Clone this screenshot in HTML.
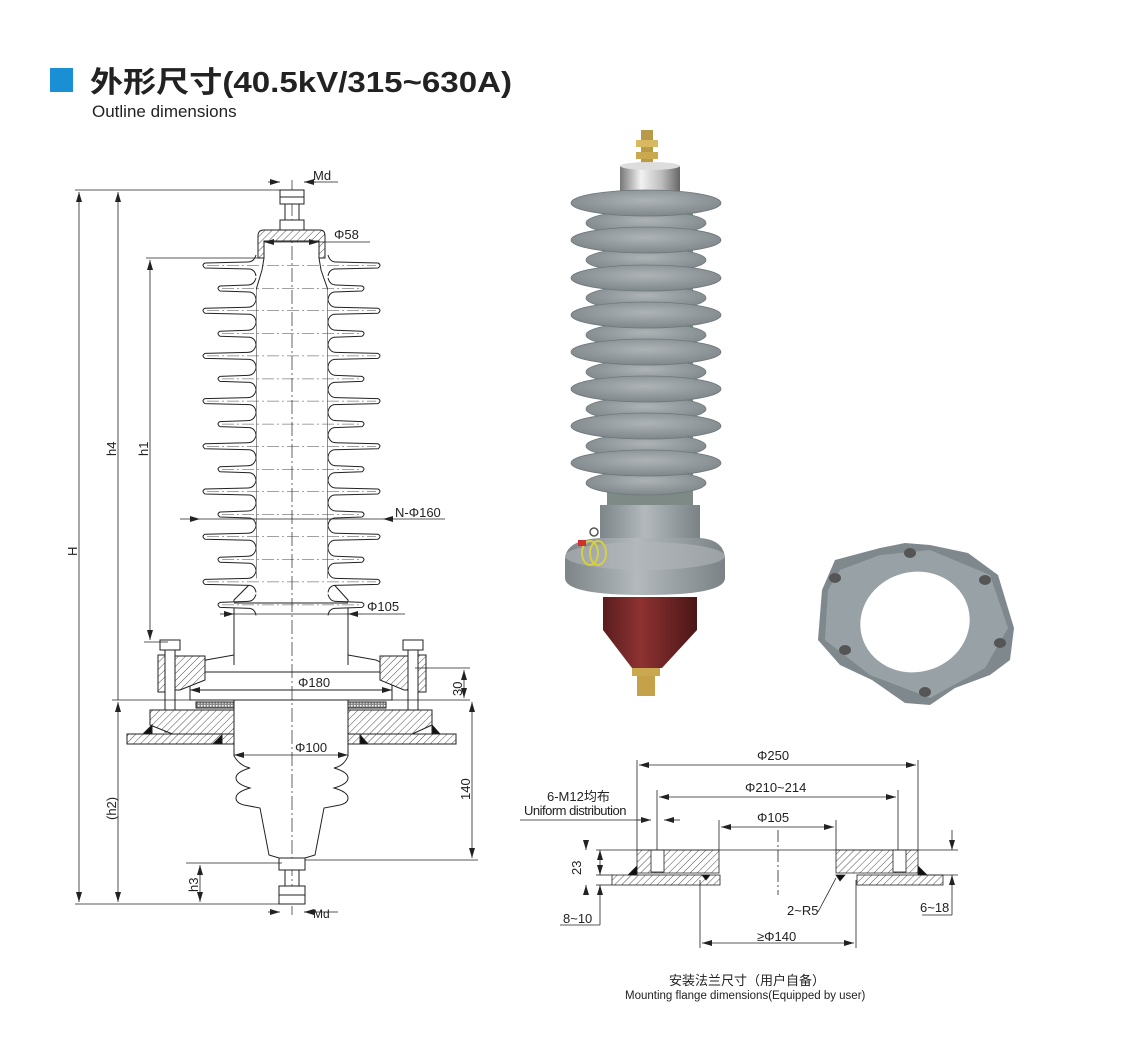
<!DOCTYPE html>
<html><head><meta charset="utf-8"><style>
html,body{margin:0;padding:0;background:#fff;width:1124px;height:1051px;overflow:hidden}
svg{position:absolute;left:0;top:0}
text{font-family:"Liberation Sans","Noto Sans CJK SC",sans-serif;fill:#222}
</style></head><body>
<svg width="1124" height="1051" viewBox="0 0 1124 1051" xmlns="http://www.w3.org/2000/svg">
<defs>
<pattern id="h" width="5" height="5" patternUnits="userSpaceOnUse" patternTransform="rotate(45)"><rect width="5" height="5" fill="#fff"/><line x1="0" y1="0" x2="0" y2="5" stroke="#222" stroke-width="0.8"/></pattern>
<pattern id="x" width="3" height="3" patternUnits="userSpaceOnUse"><rect width="3" height="3" fill="#888"/><rect width="1.5" height="1.5" fill="#fff"/></pattern>
<marker id="a" viewBox="0 0 10 6" refX="10" refY="3" markerWidth="10" markerHeight="6" orient="auto-start-reverse" markerUnits="userSpaceOnUse"><path d="M0,0 L10,3 L0,6z" fill="#222"/></marker>
<radialGradient id="sg" cx="0.5" cy="0.4" r="0.6"><stop offset="0" stop-color="#aeb4b6"/><stop offset="1" stop-color="#7f878b"/></radialGradient>
<linearGradient id="cap" x1="0" x2="1"><stop offset="0" stop-color="#777"/><stop offset=".35" stop-color="#f2f2f2"/><stop offset=".7" stop-color="#bbb"/><stop offset="1" stop-color="#666"/></linearGradient>
<linearGradient id="red" x1="0" x2="1"><stop offset="0" stop-color="#5a1d1d"/><stop offset=".4" stop-color="#8e3232"/><stop offset="1" stop-color="#4b1616"/></linearGradient>
<linearGradient id="gb" x1="0" x2="1"><stop offset="0" stop-color="#7d8589"/><stop offset=".45" stop-color="#b3b9bc"/><stop offset="1" stop-color="#7a8286"/></linearGradient>
</defs>

<!-- header -->
<rect x="50" y="68" width="23" height="24" fill="#1b8fd4"/>
<text x="90" y="92" font-size="29" font-weight="bold" textLength="422" lengthAdjust="spacingAndGlyphs">外形尺寸(40.5kV/315~630A)</text>
<text x="92" y="117" font-size="17">Outline dimensions</text>

<g id="left" stroke="#222" stroke-width="1" fill="none">
 <line x1="292" y1="180" x2="292" y2="915" stroke-dasharray="14,3,2,3" stroke-width="0.7"/>
 <rect x="280" y="190" width="24" height="14" fill="#fff"/>
 <line x1="280" y1="197" x2="304" y2="197"/>
 <rect x="285" y="204" width="14" height="18"/>
 <rect x="280" y="220" width="24" height="10" fill="#fff"/>
 <path d="M258,258 L258,236 Q258,230 264,230 L320,230 Q325,230 325,236 L325,258 L319,258 L319,241 L264,241 L264,258 Z" fill="url(#h)"/>
 <line x1="264" y1="241" x2="319" y2="241"/>
 <path d="M264,258 L262,270 L256,290 L256,578 L234,600 L234,665"/>
 <path d="M319,258 L321,270 L328,290 L328,578 L348,600 L348,665"/>
 <g id="sheds"></g>
 <line x1="234" y1="603" x2="348" y2="603"/>
 <path d="M234,655 L206,660 L190,668 L190,690 M348,655 L376,660 L392,668 L392,690"/>
 <path d="M190,672 L392,672 M190,690 L392,690 L392,700 L190,700Z"/>
 <path d="M172,656 L205,656 L205,680 L180,690 L172,690Z" fill="url(#h)"/>
 <path d="M380,656 L412,656 L412,690 L404,690 L380,680Z" fill="url(#h)"/>
 <rect x="158" y="655" width="12" height="37" fill="url(#h)"/>
 <rect x="414" y="655" width="12" height="37" fill="url(#h)"/>
 <rect x="160" y="640" width="20" height="10" fill="#fff"/>
 <rect x="403" y="640" width="20" height="10" fill="#fff"/>
 <rect x="165" y="650" width="10" height="82" fill="#fff"/>
 <rect x="408" y="650" width="10" height="75" fill="#fff"/>
 <rect x="196" y="702" width="38" height="6" fill="url(#x)"/>
 <rect x="348" y="702" width="38" height="6" fill="url(#x)"/>
 <path d="M150,710 L234,710 L234,735 L175,735 L150,725Z" fill="url(#h)"/>
 <path d="M348,710 L432,710 L432,725 L410,735 L348,735Z" fill="url(#h)"/>
 <rect x="127" y="734" width="107" height="10" fill="url(#h)"/>
 <rect x="348" y="734" width="108" height="10" fill="url(#h)"/>
 <path d="M143,734 L152,725 L152,734Z M213,744 L222,735 L222,744Z M368,744 L360,735 L360,744Z M432,734 L432,725 L440,734Z" fill="#111"/>
 <path d="M234,700 L234,756 Q240,766 250,768 Q236,772 236,778 Q236,784 250,788 Q236,792 236,798 Q236,803 244,805 L260,808 L269,855 L279,858 L305,858 L315,855 L324,808 L340,805 Q348,803 348,798 Q348,792 334,788 Q348,784 348,778 Q348,772 334,768 Q344,766 348,756 L348,700"/>
 <rect x="279" y="858" width="26" height="12" fill="#fff"/>
 <rect x="285" y="870" width="14" height="18"/>
 <rect x="279" y="886" width="26" height="18" fill="#fff"/>
 <line x1="279" y1="895" x2="305" y2="895"/>
 <g stroke-width="0.8">
 <line x1="75" y1="190" x2="282" y2="190"/>
 <line x1="75" y1="904" x2="282" y2="904"/>
 <line x1="79" y1="192" x2="79" y2="902" marker-start="url(#a)" marker-end="url(#a)"/>
 <line x1="118" y1="192" x2="118" y2="700" marker-start="url(#a)"/>
 <line x1="112" y1="700" x2="470" y2="700"/>
 <line x1="118" y1="702" x2="118" y2="902" marker-end="url(#a)" marker-start="url(#a)"/>
 <line x1="146" y1="258" x2="258" y2="258"/>
 <line x1="150" y1="260" x2="150" y2="640" marker-start="url(#a)" marker-end="url(#a)"/>
 <line x1="144" y1="642" x2="168" y2="642"/>
 <line x1="186" y1="863" x2="282" y2="863"/>
 <line x1="200" y1="865" x2="200" y2="902" marker-start="url(#a)" marker-end="url(#a)"/>
 <line x1="305" y1="860" x2="478" y2="860"/>
 <line x1="472" y1="702" x2="472" y2="858" marker-start="url(#a)" marker-end="url(#a)"/>
 <line x1="415" y1="668" x2="470" y2="668"/>
 <line x1="464" y1="670" x2="464" y2="698" marker-start="url(#a)" marker-end="url(#a)"/>
 <line x1="268" y1="182" x2="280" y2="182" marker-end="url(#a)"/>
 <line x1="316" y1="182" x2="304" y2="182" marker-end="url(#a)"/>
 <line x1="304" y1="182" x2="338" y2="182"/>
 <line x1="268" y1="912" x2="280" y2="912" marker-end="url(#a)"/>
 <line x1="316" y1="912" x2="304" y2="912" marker-end="url(#a)"/>
 <line x1="304" y1="912" x2="338" y2="912"/>
 <line x1="264" y1="242" x2="319" y2="242" marker-start="url(#a)" marker-end="url(#a)"/>
 <line x1="319" y1="242" x2="370" y2="242"/>
 <line x1="180" y1="519" x2="200" y2="519" marker-end="url(#a)"/>
 <line x1="200" y1="519" x2="383" y2="519"/>
 <line x1="400" y1="519" x2="383" y2="519" marker-end="url(#a)"/>
 <line x1="400" y1="519" x2="445" y2="519"/>
 <line x1="220" y1="614" x2="234" y2="614" marker-end="url(#a)"/>
 <line x1="234" y1="614" x2="348" y2="614"/>
 <line x1="362" y1="614" x2="348" y2="614" marker-end="url(#a)"/>
 <line x1="362" y1="614" x2="405" y2="614"/>
 <line x1="190" y1="690" x2="392" y2="690" marker-start="url(#a)" marker-end="url(#a)"/>
 <line x1="234" y1="755" x2="348" y2="755" marker-start="url(#a)" marker-end="url(#a)"/>
 </g>
</g>
<g font-size="13">
 <text x="313" y="180">Md</text>
 <text x="313" y="918" font-size="12">Md</text>
 <text x="334" y="239">Φ58</text>
 <text x="395" y="517">N-Φ160</text>
 <text x="367" y="611">Φ105</text>
 <text x="298" y="687">Φ180</text>
 <text x="295" y="752">Φ100</text>
 <text transform="translate(77,556) rotate(-90)">H</text>
 <text transform="translate(116,456) rotate(-90)">h4</text>
 <text transform="translate(148,456) rotate(-90)">h1</text>
 <text transform="translate(116,820) rotate(-90)">(h2)</text>
 <text transform="translate(198,892) rotate(-90)">h3</text>
 <text transform="translate(470,800) rotate(-90)">140</text>
 <text transform="translate(462,696) rotate(-90)">30</text>
</g>

<g id="photo">
 <rect x="641" y="130" width="12" height="38" fill="#b89a48"/>
 <rect x="636" y="140" width="22" height="7" fill="#d8b860"/>
 <rect x="636" y="152" width="22" height="7" fill="#c9a850"/>
 <rect x="620" y="166" width="60" height="32" fill="url(#cap)"/>
 <ellipse cx="650" cy="166" rx="30" ry="4" fill="#ddd"/>
 <rect x="607" y="200" width="86" height="310" fill="#7e8a86"/>
 <g id="pdisc"></g>
 <rect x="600" y="505" width="100" height="45" fill="url(#gb)"/>
 <path d="M565,560 Q565,540 600,538 L700,538 Q725,540 725,560 L725,578 Q725,595 645,595 Q565,595 565,578Z" fill="url(#gb)"/>
 <ellipse cx="645" cy="556" rx="80" ry="14" fill="#b0b6b9" opacity=".6"/>
 <path d="M603,597 L697,597 L697,630 L662,668 L632,668 L603,630Z" fill="url(#red)"/>
 <rect x="632" y="668" width="28" height="8" fill="#c9a850"/>
 <rect x="637" y="676" width="18" height="20" fill="#c5a24a"/>
 <ellipse cx="590" cy="553" rx="8" ry="12" fill="none" stroke="#d6d040" stroke-width="2"/>
 <ellipse cx="598" cy="553" rx="8" ry="12" fill="none" stroke="#d6d040" stroke-width="2"/>
 <rect x="578" y="540" width="8" height="6" fill="#d03030"/>
 <circle cx="594" cy="532" r="4" fill="none" stroke="#555" stroke-width="1.5"/>
</g>
<g>
 <path d="M835,560 L880,548 L905,543 L930,545 L968,553 L998,575 L1014,628 L1010,660 L990,675 L955,688 L930,705 L905,703 L872,680 L840,665 L818,640 L822,590Z" fill="#7f898d"/>
 <path d="M840,570 L880,555 L930,550 L990,575 L1008,628 L985,668 L930,698 L870,675 L825,640 L828,590Z" fill="#98a2a6"/>
 <ellipse cx="915" cy="622" rx="55" ry="50" fill="#fff" transform="rotate(-15 915 622)"/>
 <g fill="#555"><ellipse cx="910" cy="553" rx="6" ry="5"/><ellipse cx="985" cy="580" rx="6" ry="5"/><ellipse cx="1000" cy="643" rx="6" ry="5"/><ellipse cx="925" cy="692" rx="6" ry="5"/><ellipse cx="845" cy="650" rx="6" ry="5"/><ellipse cx="835" cy="578" rx="6" ry="5"/></g>
</g>

<g stroke="#222" fill="none" stroke-width="0.8">
 <path d="M637,850 L719,850 L719,873 L637,873Z" fill="url(#h)"/>
 <path d="M836,850 L918,850 L918,873 L836,873Z" fill="url(#h)"/>
 <rect x="651" y="850" width="13" height="22" fill="#fff"/>
 <rect x="893" y="850" width="13" height="22" fill="#fff"/>
 <rect x="612" y="875" width="108" height="10" fill="url(#h)"/>
 <rect x="857" y="875" width="86" height="10" fill="url(#h)"/>
 <path d="M628,875 L637,866 L637,875Z M702,875 L710,875 L706,880Z M836,875 L845,875 L840,881Z M918,866 L927,875 L918,875Z" fill="#111"/>
 <line x1="778" y1="830" x2="778" y2="895" stroke-dasharray="12,3,2,3"/>
 <line x1="596" y1="850" x2="958" y2="850"/>
 <line x1="918" y1="875" x2="958" y2="875"/>
 <line x1="596" y1="875" x2="612" y2="875"/>
 <line x1="596" y1="885" x2="612" y2="885"/>
 <line x1="637" y1="760" x2="637" y2="850"/>
 <line x1="918" y1="760" x2="918" y2="850"/>
 <line x1="639" y1="765" x2="916" y2="765" marker-start="url(#a)" marker-end="url(#a)"/>
 <line x1="657" y1="790" x2="657" y2="850"/>
 <line x1="898" y1="790" x2="898" y2="850"/>
 <line x1="659" y1="797" x2="896" y2="797" marker-start="url(#a)" marker-end="url(#a)"/>
 <line x1="719" y1="820" x2="719" y2="850"/>
 <line x1="836" y1="820" x2="836" y2="850"/>
 <line x1="721" y1="827" x2="834" y2="827" marker-start="url(#a)" marker-end="url(#a)"/>
 <line x1="700" y1="880" x2="700" y2="948"/>
 <line x1="856" y1="880" x2="856" y2="948"/>
 <line x1="702" y1="943" x2="854" y2="943" marker-start="url(#a)" marker-end="url(#a)"/>
 <line x1="520" y1="820" x2="640" y2="820"/>
 <line x1="638" y1="820" x2="651" y2="820" marker-end="url(#a)"/>
 <line x1="680" y1="820" x2="664" y2="820" marker-end="url(#a)"/>
 <line x1="586" y1="840" x2="586" y2="850" marker-end="url(#a)"/>
 <line x1="586" y1="885" x2="586" y2="895" marker-start="url(#a)"/>
 <line x1="600" y1="850" x2="600" y2="875" marker-start="url(#a)" marker-end="url(#a)"/>
 <line x1="600" y1="885" x2="600" y2="925" marker-start="url(#a)"/>
 <line x1="560" y1="925" x2="600" y2="925"/>
 <line x1="952" y1="830" x2="952" y2="850" marker-end="url(#a)"/>
 <line x1="952" y1="875" x2="952" y2="915" marker-start="url(#a)"/>
 <line x1="922" y1="915" x2="952" y2="915"/>
 <line x1="818" y1="912" x2="836" y2="878"/>
</g>
<g font-size="13">
 <text x="757" y="760">Φ250</text>
 <text x="745" y="792">Φ210~214</text>
 <text x="757" y="822">Φ105</text>
 <text x="547" y="801">6-M12均布</text>
 <text x="524" y="815" style="letter-spacing:-0.5px">Uniform distribution</text>
 <text transform="translate(581,875) rotate(-90)">23</text>
 <text x="563" y="923">8~10</text>
 <text x="787" y="915">2~R5</text>
 <text x="920" y="912">6~18</text>
 <text x="757" y="941">≥Φ140</text>
 <text x="669" y="985">安装法兰尺寸（用户自备）</text>
 <text x="625" y="999" font-size="11.5">Mounting flange dimensions(Equipped by user)</text>
</g>
<script>
(function(){
var ns="http://www.w3.org/2000/svg";
var g=document.getElementById("sheds");
function shed(y,l,r,bl,br){
 var p=document.createElementNS(ns,"path");
 p.setAttribute("d","M"+bl+","+(y-9)+" Q"+(bl-2)+","+(y-2)+" "+(bl-8)+","+(y-2)+" L"+(l+4)+","+(y-1)+" Q"+l+","+(y+1)+" "+(l+4)+","+(y+4)+" L"+(bl-6)+","+(y+5)+" Q"+(bl-1)+","+(y+6)+" "+bl+","+(y+12)+
 " M"+br+","+(y-9)+" Q"+(br+2)+","+(y-2)+" "+(br+8)+","+(y-2)+" L"+(r-4)+","+(y-1)+" Q"+r+","+(y+1)+" "+(r-4)+","+(y+4)+" L"+(br+6)+","+(y+5)+" Q"+(br+1)+","+(y+6)+" "+br+","+(y+12));
 p.setAttribute("fill","#fff");p.setAttribute("stroke","#222");
 g.appendChild(p);
 var c=document.createElementNS(ns,"line");
 c.setAttribute("x1",l+6);c.setAttribute("x2",r-6);c.setAttribute("y1",y+1.5);c.setAttribute("y2",y+1.5);
 c.setAttribute("stroke","#444");c.setAttribute("stroke-width","0.5");c.setAttribute("stroke-dasharray","12,3,2,3");
 g.appendChild(c);
}
for(var i=0;i<8;i++){shed(264+i*45.2,201,382,256,328);}
for(var i=0;i<8;i++){shed(287+i*45.2,216,366,256,328);}
var d=document.getElementById("pdisc");
var ys=[203,240,278,315,352,389,426,463];
for(var i=ys.length-1;i>=0;i--){
 var y=ys[i];
 var s=document.createElementNS(ns,"ellipse");
 s.setAttribute("cx",646);s.setAttribute("cy",y+20);s.setAttribute("rx",60);s.setAttribute("ry",12);s.setAttribute("fill","url(#sg)");s.setAttribute("stroke","#6f787c");s.setAttribute("stroke-width","0.8");d.appendChild(s);
}
for(var i=ys.length-1;i>=0;i--){
 var y=ys[i];
 var b=document.createElementNS(ns,"ellipse");
 b.setAttribute("cx",646);b.setAttribute("cy",y);b.setAttribute("rx",75);b.setAttribute("ry",13);b.setAttribute("fill","url(#sg)");b.setAttribute("stroke","#6f787c");b.setAttribute("stroke-width","0.8");
 d.appendChild(b);
}
})();
</script>
</svg>
</body></html>
